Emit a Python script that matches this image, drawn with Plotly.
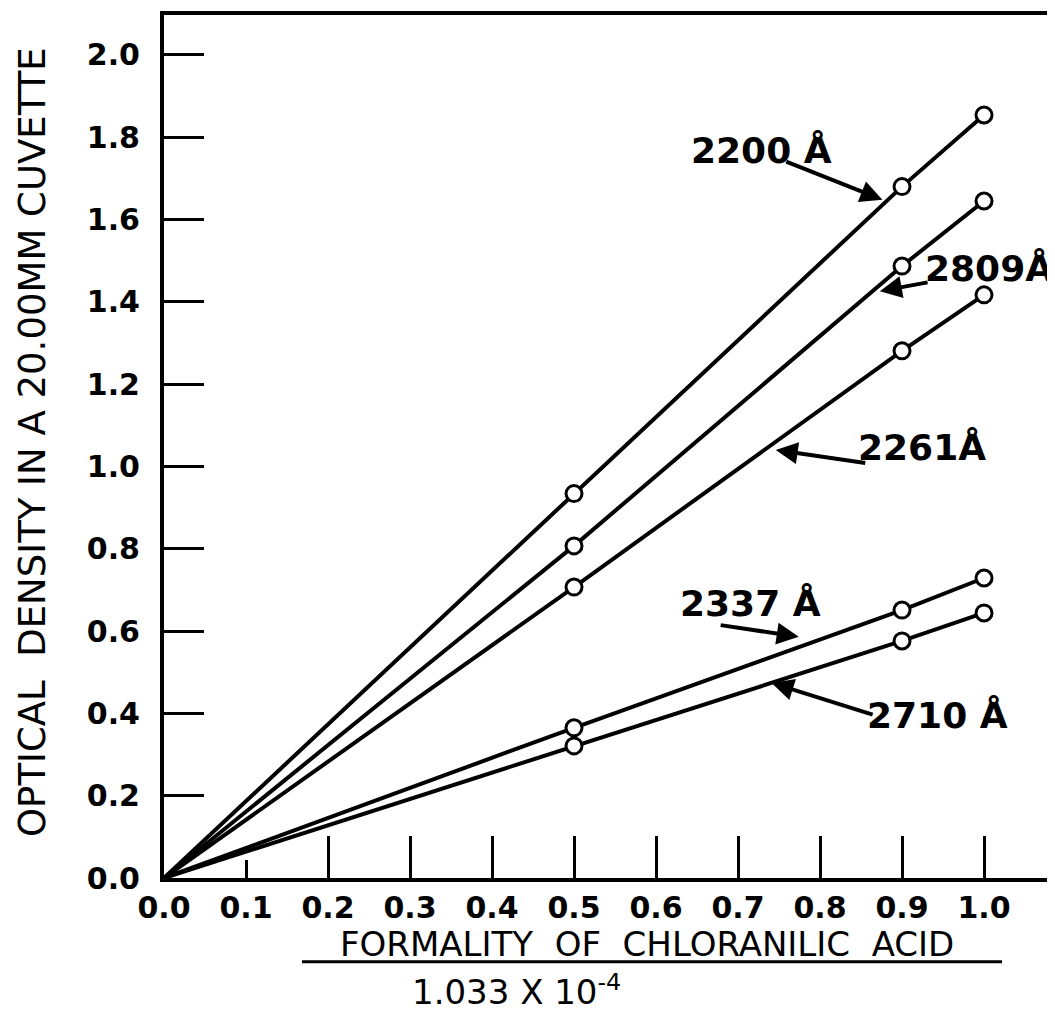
import plotly.graph_objects as go

# ---- data ----
formality = [0.0, 0.5, 0.9, 1.0]
od_2200 = [0.0, 0.934, 1.680, 1.854]
od_2809 = [0.0, 0.807, 1.487, 1.645]
od_2261 = [0.0, 0.707, 1.281, 1.417]
od_2337 = [0.0, 0.365, 0.651, 0.729]
od_2710 = [0.0, 0.321, 0.576, 0.644]

series = [od_2200, od_2809, od_2261, od_2337, od_2710]

x_ticks = [0.0, 0.1, 0.2, 0.3, 0.4, 0.5, 0.6, 0.7, 0.8, 0.9, 1.0]
x_tick_labels = ["0.0", "0.1", "0.2", "0.3", "0.4", "0.5", "0.6", "0.7", "0.8", "0.9", "1.0"]
y_ticks = [0.0, 0.2, 0.4, 0.6, 0.8, 1.0, 1.2, 1.4, 1.6, 1.8, 2.0]
y_tick_labels = ["0.0", "0.2", "0.4", "0.6", "0.8", "1.0", "1.2", "1.4", "1.6", "1.8", "2.0"]

# label text, text position, arrow tail, arrow head (data coords)
labels = [
    ("2200 Å", (0.729, 1.767), (0.757, 1.742), (0.876, 1.648)),
    ("2809Å", (1.006, 1.482), (0.933, 1.448), (0.873, 1.426)),
    ("2261Å", (0.924, 1.045), (0.857, 1.008), (0.746, 1.040)),
    ("2337 Å", (0.715, 0.668), (0.677, 0.615), (0.774, 0.586)),
    ("2710 Å", (0.943, 0.396), (0.866, 0.396), (0.741, 0.474)),
]

FONT = "DejaVu Sans"

fig = go.Figure()
for s in series:
    fig.add_trace(go.Scatter(
        x=formality, y=s, mode="lines+markers",
        line=dict(color="black", width=4),
        marker=dict(symbol="circle", size=[0, 16, 16, 16], color="white", opacity=1,
                    line=dict(color="black", width=3)),
        showlegend=False, hoverinfo="skip"))

# invisible trace on overlay axis to carry long ticks
fig.add_trace(go.Scatter(x=[0], y=[0], xaxis="x2", mode="markers",
                         marker=dict(opacity=0), showlegend=False, hoverinfo="skip"))

annotations = []
for text, (tx, ty), (ax_, ay_), (hx, hy) in labels:
    annotations.append(dict(x=tx, y=ty, xref="x", yref="y", text="<b>" + text + "</b>",
                            showarrow=False,
                            font=dict(family=FONT, size=36, color="black"),
                            xanchor="center", yanchor="middle"))
    annotations.append(dict(x=hx, y=hy, ax=ax_, ay=ay_, xref="x", yref="y",
                            axref="x", ayref="y", text="", showarrow=True,
                            arrowhead=2, arrowsize=1.1, arrowwidth=4, arrowcolor="black"))

annotations.append(dict(x=-0.148, y=0.505, xref="paper", yref="paper",
                        text="OPTICAL  DENSITY IN A 20.00MM CUVETTE", textangle=-90,
                        showarrow=False, xanchor="center", yanchor="middle",
                        font=dict(family=FONT, size=37, color="black")))
annotations.append(dict(x=0.541, y=-0.077, xref="paper", yref="paper",
                        text="FORMALITY  OF  CHLORANILIC  ACID", showarrow=False,
                        xanchor="center", yanchor="middle",
                        font=dict(family=FONT, size=34, color="black")))
annotations.append(dict(x=0.395, y=-0.130, xref="paper", yref="paper",
                        text="1.033 X 10<sup>-4</sup>", showarrow=False,
                        xanchor="center", yanchor="middle",
                        font=dict(family=FONT, size=34, color="black")))

shapes = [dict(type="line", xref="paper", yref="paper",
               x0=(300 - 162) / 893, x1=(1000 - 162) / 893,
               y0=-0.097, y1=-0.097, line=dict(color="black", width=3))]

fig.update_layout(
    width=1049, height=1008,
    margin=dict(l=156, r=0, t=7, b=138),
    paper_bgcolor="white", plot_bgcolor="white",
    annotations=annotations, shapes=shapes,
    xaxis=dict(range=[0, 1.089], tickvals=x_ticks, ticktext=x_tick_labels,
               ticks="inside", ticklen=18, tickwidth=3, tickcolor="black",
               showline=True, linewidth=4, linecolor="black", mirror=True,
               showgrid=False, zeroline=False,
               tickfont=dict(family=FONT, size=30, color="black", weight="bold"),
               ticklabelstandoff=0),
    xaxis2=dict(overlaying="x", matches="x", side="bottom", range=[0, 1.089],
                tickvals=x_ticks[2:], ticks="inside", ticklen=42, tickwidth=3,
                tickcolor="black", showticklabels=False, showline=False,
                showgrid=False, zeroline=False),
    yaxis=dict(range=[0, 2.097], tickvals=y_ticks, ticktext=y_tick_labels,
               ticks="inside", ticklen=40, tickwidth=3, tickcolor="black",
               showline=True, linewidth=4, linecolor="black", mirror=False,
               showgrid=False, zeroline=False,
               tickfont=dict(family=FONT, size=30, color="black", weight="bold"),
               ticklabelstandoff=14),
)

fig.write_html("out.html")
